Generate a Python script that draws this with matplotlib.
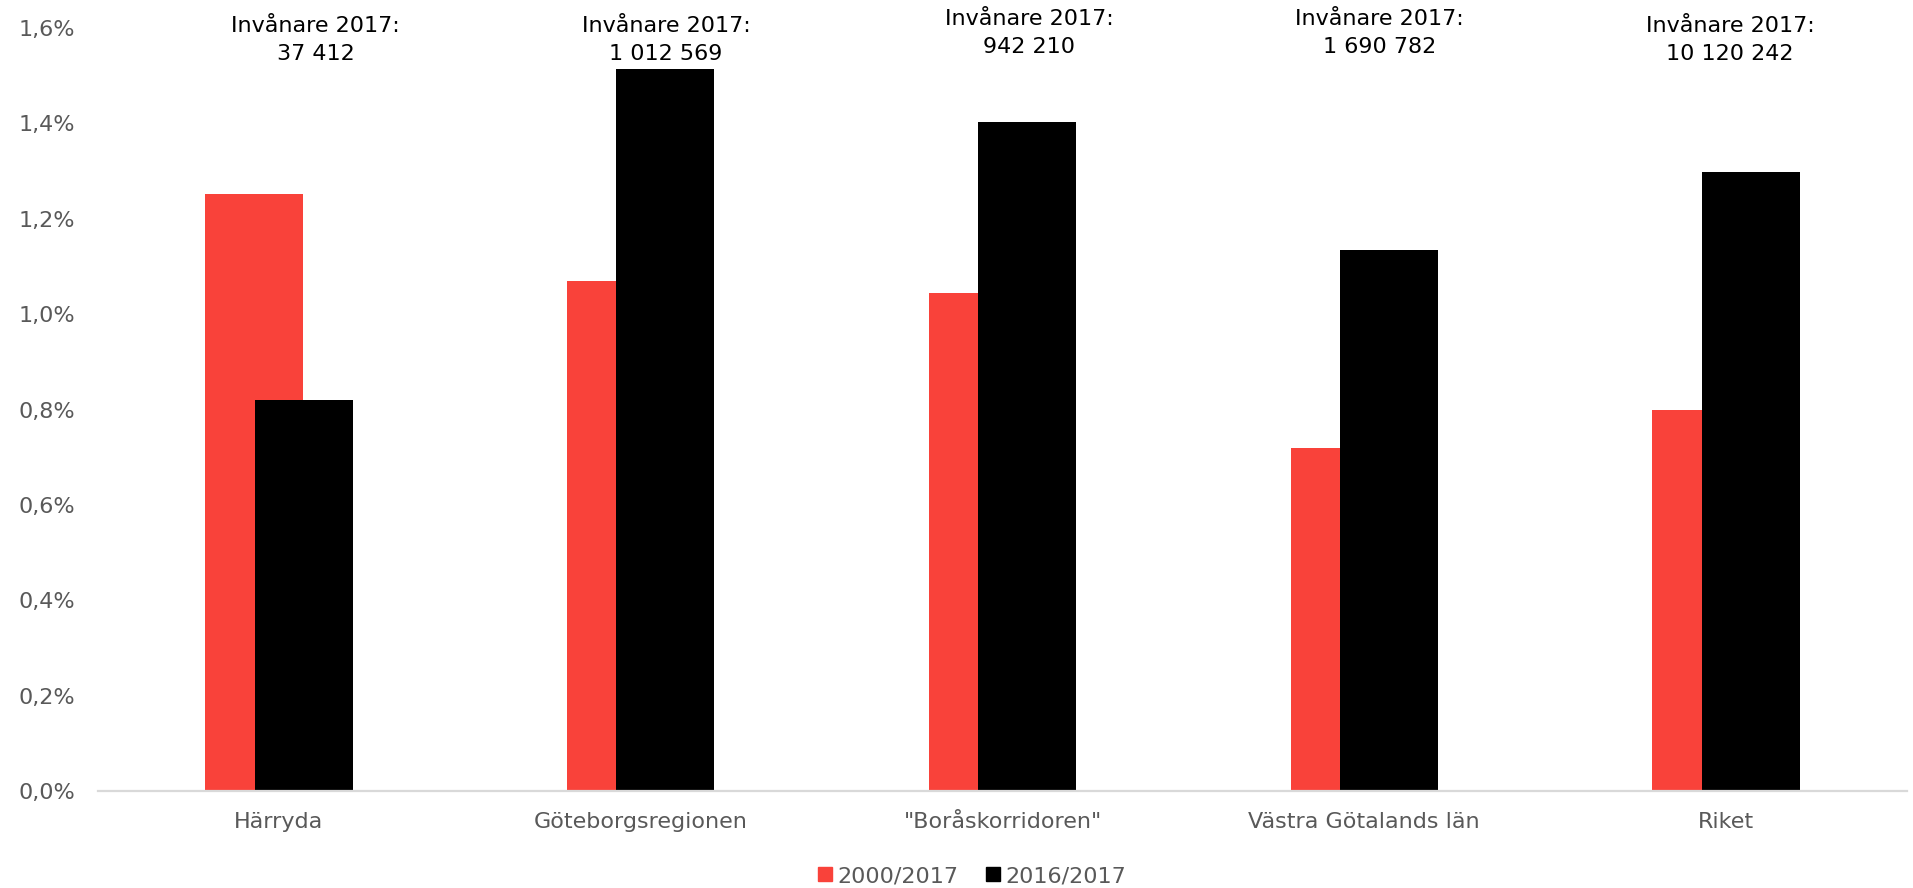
import matplotlib
matplotlib.use("Agg")
import matplotlib.pyplot as plt
import matplotlib.transforms as mtransforms
from matplotlib.patches import Rectangle
import numpy as np

# ---- data ----
categories = ["Härryda", "Göteborgsregionen", "\"Boråskorridoren\"", "Västra Götalands län", "Riket"]
growth_2000_2017 = [1.252, 1.070, 1.045, 0.720, 0.799]   # percent
growth_2016_2017 = [0.820, 1.515, 1.403, 1.134, 1.298]   # percent
population_2017 = ["37 412", "1 012 569", "942 210", "1 690 782", "10 120 242"]
series_names = ["2000/2017", "2016/2017"]
yticks = [0.0, 0.2, 0.4, 0.6, 0.8, 1.0, 1.2, 1.4, 1.6]

# ---- style / layout ----
RED = "#F9423A"
BLACK = "#000000"
GRAY = "#595959"
AXIS_GRAY = "#D9D9D9"
FS = 16
plt.rcParams["font.family"] = ["DejaVu Sans"]

W, H = 1913, 888
fig = plt.figure(figsize=(W / 100, H / 100), dpi=100)
left, right = 98 / W, 1907 / W
bottom, top = 1 - 791 / H, 1 - 28 / H
ax = fig.add_axes([left, bottom, right - left, top - bottom])

x = np.arange(len(categories))
bw = 0.271
off = 0.0684
ax.bar(x - off, growth_2000_2017, width=bw, color=RED, zorder=2, label=series_names[0])
ax.bar(x + off, growth_2016_2017, width=bw, color=BLACK, zorder=3, label=series_names[1])

ax.set_xlim(-0.5, len(categories) - 0.5)
ax.set_ylim(0, 1.6)
ax.set_yticks(yticks)
ax.set_yticklabels([f"{v:.1f}".replace(".", ",") + "%" for v in yticks])
ax.set_xticks(x)
ax.set_xticklabels(categories)
ax.tick_params(axis="y", length=0, pad=16.5, labelsize=FS, labelcolor=GRAY)
ax.tick_params(axis="x", length=0, pad=15, labelsize=FS, labelcolor=GRAY)

for s in ["top", "right", "left"]:
    ax.spines[s].set_visible(False)
ax.spines["bottom"].set_color(AXIS_GRAY)
ax.spines["bottom"].set_linewidth(1.6)
ax.spines["bottom"].set_zorder(4)

# annotations (text boxes above each group)
ann_dx = [0.101, 0.070, 0.073, 0.041, 0.011]
ann_y1 = [0.9948, 0.9948, 1.0039, 1.0039, 0.9948]
ann_gap = 0.0367
trans = mtransforms.blended_transform_factory(ax.transData, ax.transAxes)
for i, pop in enumerate(population_2017):
    ax.text(x[i] + ann_dx[i], ann_y1[i], "Invånare 2017:", transform=trans,
            ha="center", va="baseline", fontsize=FS, color="black", clip_on=False)
    ax.text(x[i] + ann_dx[i], ann_y1[i] - ann_gap, pop, transform=trans,
            ha="center", va="baseline", fontsize=FS, color="black", clip_on=False)

handles = [Rectangle((0, 0), 1, 1, color=RED), Rectangle((0, 0), 1, 1, color=BLACK)]
fig.legend(handles, series_names, loc="center", bbox_to_anchor=(0.508, 1 - 876 / H),
           ncol=2, frameon=False, fontsize=FS, labelcolor=GRAY,
           handlelength=0.63, handleheight=0.63, handletextpad=0.23,
           columnspacing=1.26, borderpad=0, borderaxespad=0)

fig.savefig("out.png", dpi=100)
